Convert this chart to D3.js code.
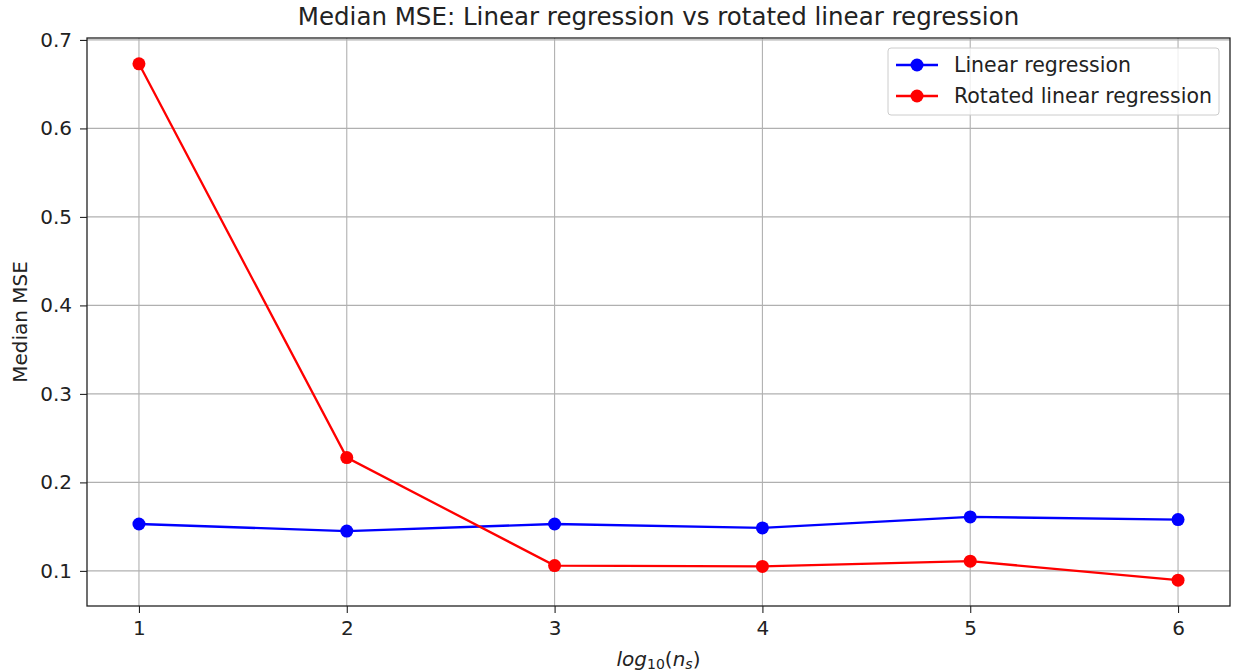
<!DOCTYPE html>
<html>
<head>
<meta charset="UTF-8">
<title>Median MSE</title>
<style>
  body { margin: 0; background: white; }
  svg { font-family: "DejaVu Sans", sans-serif; }
</style>
</head>
<body>
<svg></svg>
<script src="https://d3js.org/d3.v7.min.js"></script>
<script>

let width = 1233, height = 672;

// data
let logN = [1, 2, 3, 4, 5, 6];
let linearMSE = [0.153, 0.145, 0.153, 0.1485, 0.161, 0.158];
let rotatedMSE = [0.673, 0.228, 0.106, 0.105, 0.111, 0.0895];
let yTicks = [0.1, 0.2, 0.3, 0.4, 0.5, 0.6, 0.7];
let seriesNames = ["Linear regression", "Rotated linear regression"];
let seriesColors = ["#0000ff", "#ff0000"];

let margin = { left: 87, right: 3, top: 38, bottom: 66 };

let svg = d3.select("svg")
  .attr("width", width)
  .attr("height", height);

// same 5% padding that matplotlib uses
let allY = linearMSE.concat(rotatedMSE);
let yMin = d3.min(allY), yMax = d3.max(allY);
let yPad = (yMax - yMin) * 0.05;

let x = d3.scaleLinear()
  .domain([0.75, 6.25])
  .range([margin.left, width - margin.right]);

let y = d3.scaleLinear()
  .domain([yMin - yPad, yMax + yPad])
  .range([height - margin.bottom, margin.top]);

// grid lines
let grid = svg.append("g").attr("id", "grid");
grid.selectAll("line.gx")
  .data(logN)
  .enter()
  .append("line")
  .attr("class", "gx")
  .attr("x1", d => x(d)).attr("x2", d => x(d))
  .attr("y1", margin.top).attr("y2", height - margin.bottom)
  .attr("stroke", "#b0b0b0").attr("stroke-width", 1.1);
grid.selectAll("line.gy")
  .data(yTicks)
  .enter()
  .append("line")
  .attr("class", "gy")
  .attr("x1", margin.left).attr("x2", width - margin.right)
  .attr("y1", d => y(d)).attr("y2", d => y(d))
  .attr("stroke", "#b0b0b0").attr("stroke-width", 1.1);

// axes
let xAxis = svg.append("g")
  .attr("transform", "translate(0," + (height - margin.bottom) + ")")
  .call(d3.axisBottom(x).tickValues(logN).tickFormat(d3.format("d")).tickSizeInner(7).tickSizeOuter(0).tickPadding(8));
let yAxis = svg.append("g")
  .attr("transform", "translate(" + margin.left + ",0)")
  .call(d3.axisLeft(y).tickValues(yTicks).tickFormat(d3.format(".1f")).tickSizeInner(7).tickSizeOuter(0).tickPadding(8));

[xAxis, yAxis].forEach(a => {
  a.select(".domain").remove();
  a.attr("font-size", null).attr("font-family", null);
  a.selectAll("text").style("font-size", "20px").attr("fill", "#222");
  a.selectAll("line").attr("stroke", "#222").attr("stroke-width", 1.1);
});

// frame
svg.append("rect")
  .attr("x", margin.left).attr("y", margin.top)
  .attr("width", width - margin.right - margin.left)
  .attr("height", height - margin.bottom - margin.top)
  .attr("fill", "none").attr("stroke", "#222").attr("stroke-width", 1.3);

// lines and markers
let line = d3.line().x((d, i) => x(logN[i])).y(d => y(d));
[linearMSE, rotatedMSE].forEach((series, k) => {
  let g = svg.append("g");
  g.append("path")
    .attr("d", line(series))
    .attr("fill", "none")
    .attr("stroke", seriesColors[k])
    .attr("stroke-width", 2.3);
  g.selectAll("circle")
    .data(series)
    .enter()
    .append("circle")
    .attr("cx", (d, i) => x(logN[i]))
    .attr("cy", d => y(d))
    .attr("r", 6.5)
    .attr("fill", seriesColors[k]);
});

// title
svg.append("text")
  .attr("x", (margin.left + width - margin.right) / 2)
  .attr("y", 25)
  .attr("text-anchor", "middle")
  .style("font-size", "24.5px")
  .attr("fill", "#222")
  .text("Median MSE: Linear regression vs rotated linear regression");

// y label
svg.append("text")
  .attr("transform", "translate(27," + (margin.top + (height - margin.bottom - margin.top) / 2) + ") rotate(-90)")
  .attr("text-anchor", "middle")
  .style("font-size", "20px")
  .attr("fill", "#222")
  .text("Median MSE");

// x label: log_10(n_s), cut at the bottom edge like the original
let xl = svg.append("text")
  .attr("x", (margin.left + width - margin.right) / 2)
  .attr("y", 666)
  .attr("text-anchor", "middle")
  .style("font-size", "20px")
  .attr("fill", "#222");
xl.append("tspan").style("font-style", "italic").text("log");
xl.append("tspan").attr("dy", 3).style("font-size", "14px").text("10");
xl.append("tspan").attr("dy", -3).text("(");
xl.append("tspan").style("font-style", "italic").text("n");
xl.append("tspan").attr("dy", 3).style("font-size", "14px").style("font-style", "italic").text("s");
xl.append("tspan").attr("dy", -3).text(")");

// legend
let lg = svg.append("g").attr("transform", "translate(888,48)");
lg.append("rect")
  .attr("width", 331).attr("height", 67)
  .attr("rx", 3)
  .attr("fill", "white").attr("fill-opacity", 0.8)
  .attr("stroke", "#cccccc");
seriesNames.forEach((name, k) => {
  let yy = 17 + k * 31;
  lg.append("line")
    .attr("x1", 8).attr("x2", 50)
    .attr("y1", yy).attr("y2", yy)
    .attr("stroke", seriesColors[k]).attr("stroke-width", 2.3);
  lg.append("circle")
    .attr("cx", 29).attr("cy", yy).attr("r", 6.5)
    .attr("fill", seriesColors[k]);
  lg.append("text")
    .attr("x", 66).attr("y", yy)
    .attr("dy", "0.35em")
    .style("font-size", "20.5px")
    .attr("fill", "#222")
    .text(name);
});

</script>
</body>
</html>
